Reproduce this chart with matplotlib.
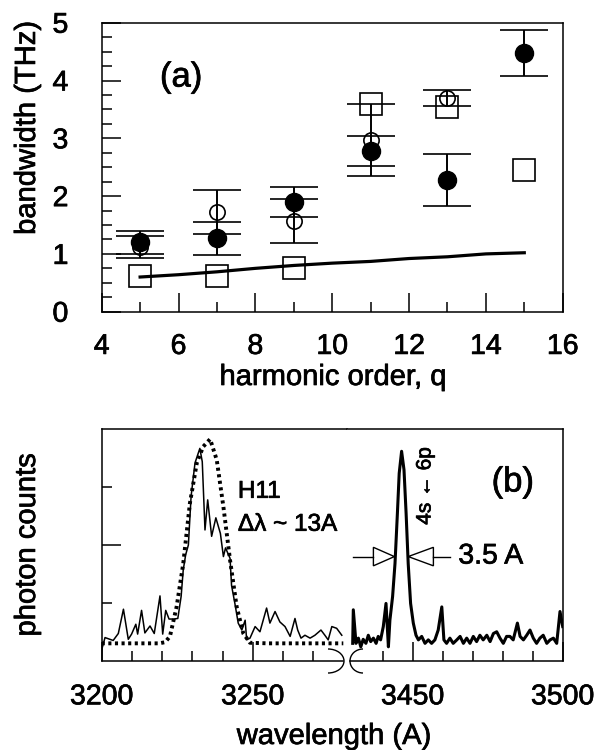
import matplotlib
matplotlib.use('Agg')
import matplotlib.pyplot as plt
from matplotlib.patches import Polygon, Arc
from matplotlib.ticker import MultipleLocator, FixedLocator
import matplotlib.patheffects as pe
import numpy as np

plt.rcParams['font.family'] = ['Liberation Sans', 'DejaVu Sans']
HEAVY = [pe.withStroke(linewidth=0.5, foreground='black')]

# ---------------- Panel (a) data ----------------
q_vals = [5, 7, 9, 11, 13, 15]
filled_bw = [1.20, 1.27, 1.89, 2.78, 2.28, 4.47]
filled_err = [0.20, 0.29, 0.26, 0.26, 0.45, 0.40]
open_q = [5, 7, 9, 11, 13]
open_bw = [1.12, 1.72, 1.57, 2.97, 3.70]
open_err = [0.19, 0.38, 0.38, 0.62, 0.14]
square_bw = [0.61, 0.61, 0.75, 3.60, 3.54, 2.46]
curve_q = [5, 6, 7, 8, 9, 10, 11, 12, 13, 14, 15]
curve_bw = [0.60, 0.64, 0.69, 0.75, 0.80, 0.84, 0.87, 0.92, 0.95, 1.00, 1.02]
a_xticks = [4, 6, 8, 10, 12, 14, 16]
a_yticks = [0, 1, 2, 3, 4, 5]

# ---------------- Panel (b) data ----------------
wl_left = [3200.0, 3201.1, 3202.7, 3203.8, 3205.5, 3207.2, 3208.8, 3209.9, 3211.3, 3211.9,
           3213.2, 3214.3, 3216.0, 3217.4, 3219.3, 3220.2, 3221.2, 3222.3, 3223.7, 3225.2,
           3226.3, 3227.0, 3227.8, 3228.7, 3229.6, 3230.9, 3232.5, 3233.3, 3234.2, 3235.1,
           3236.4, 3237.8, 3239.3, 3240.3, 3241.0, 3242.5, 3243.0, 3244.1, 3245.2, 3246.4,
           3247.5, 3248.0, 3249.1, 3250.8, 3252.4, 3254.6, 3255.7, 3257.4, 3259.0, 3260.7,
           3262.4, 3264.0, 3264.9, 3266.0, 3267.3, 3269.0, 3270.6, 3272.6, 3273.9, 3275.0,
           3276.2, 3277.8, 3279.5]
counts_left = [0.19, 0.40, 0.37, 0.35, 0.47, 0.89, 0.37, 0.46, 0.63, 0.46,
               0.87, 0.48, 0.60, 0.47, 1.12, 0.46, 0.87, 0.72, 0.72, 0.73,
               1.11, 1.57, 1.83, 2.00, 2.84, 3.42, 3.67, 3.44, 2.26, 2.78,
               2.15, 2.47, 2.20, 1.80, 1.95, 1.77, 1.30, 0.99, 0.65, 0.53,
               0.70, 0.36, 0.39, 0.59, 0.50, 0.91, 0.65, 0.85, 0.67, 0.59,
               0.42, 0.73, 0.53, 0.39, 0.44, 0.39, 0.44, 0.53, 0.44, 0.36,
               0.59, 0.56, 0.44]
wl_fit = [3200.0, 3210.0, 3219.0, 3221.0, 3222.6, 3224.8, 3227.0, 3229.2, 3231.5, 3233.6,
          3235.9, 3238.1, 3240.3, 3242.5, 3244.7, 3246.9, 3249.1, 3255.0, 3265.0, 3280.0]
counts_fit = [0.30, 0.30, 0.30, 0.32, 0.42, 0.93, 1.68, 2.72, 3.42, 3.70,
              3.83, 3.47, 2.66, 1.74, 0.93, 0.47, 0.31, 0.30, 0.30, 0.30]
wl_right = [3430.0, 3430.2, 3431.1, 3431.9, 3432.7, 3433.5, 3434.4, 3435.2, 3436.0, 3436.9,
            3437.8, 3438.5, 3439.3, 3440.2, 3441.1, 3441.9, 3442.4, 3443.3, 3444.1, 3444.9,
            3445.5, 3446.3, 3447.1, 3447.8, 3448.5, 3449.3, 3450.2, 3451.1, 3451.9, 3453.0,
            3454.1, 3455.2, 3456.3, 3457.4, 3458.5, 3459.7, 3460.4, 3461.3, 3462.4, 3463.5,
            3464.7, 3465.8, 3466.9, 3468.0, 3469.1, 3470.2, 3471.3, 3472.4, 3473.5, 3474.7,
            3475.8, 3476.9, 3478.0, 3479.1, 3480.2, 3481.3, 3482.4, 3483.5, 3484.9, 3485.8,
            3486.9, 3488.0, 3489.1, 3490.2, 3491.3, 3492.4, 3493.5, 3494.7, 3495.8, 3496.9,
            3498.0, 3499.1, 3500.0]
counts_right = [0.30, 0.88, 0.30, 0.39, 0.24, 0.37, 0.30, 0.44, 0.33, 0.39,
                0.30, 0.42, 0.36, 0.59, 0.99, 0.24, 0.70, 1.11, 1.68, 2.55,
                3.24, 3.62, 3.30, 2.55, 1.68, 0.99, 0.65, 0.44, 0.36, 0.42,
                0.30, 0.36, 0.30, 0.36, 0.53, 0.93, 0.36, 0.30, 0.39, 0.30,
                0.36, 0.42, 0.30, 0.39, 0.30, 0.42, 0.33, 0.44, 0.36, 0.44,
                0.33, 0.47, 0.50, 0.39, 0.30, 0.42, 0.42, 0.36, 0.65, 0.42,
                0.36, 0.44, 0.53, 0.39, 0.30, 0.39, 0.44, 0.30, 0.36, 0.39,
                0.30, 0.85, 0.59]
bl_major = [3200, 3250]
bl_minor = [3210, 3220, 3230, 3240, 3260, 3270]
br_major = [3450, 3500]
br_minor = [3440, 3460, 3470, 3480, 3490]

W, H = 606, 750
fig = plt.figure(figsize=(W / 100, H / 100), dpi=100)
fx = lambda x: x / W
fy = lambda y: 1 - y / H

FS = 20.5
LFS = 21
LW = 1.1

# ---------------- Panel (a) ----------------
ax = fig.add_axes([fx(101.7), fy(311.7), fx(562.7) - fx(101.7), fy(22.7) - fy(311.7)])
ax.plot(curve_q, curve_bw, color='black', lw=2.3, zorder=2)
ax.plot(q_vals, square_bw, linestyle='none', marker='s', ms=15.5, mfc='none',
        mec='black', mew=1.2, zorder=3)
ax.errorbar(open_q, open_bw, yerr=open_err, fmt='o', ms=11, mfc='none', mec='black',
            mew=1.2, ecolor='black', elinewidth=1.4, capsize=17.5, capthick=1.2,
            color='black', zorder=4)
ax.errorbar(q_vals, filled_bw, yerr=filled_err, fmt='o', ms=13, mfc='black', mec='black',
            ecolor='black', elinewidth=1.4, capsize=17.5, capthick=1.2,
            color='black', zorder=5)
ax.set_xlim(4, 16)
ax.set_ylim(0, 5)
ax.xaxis.set_major_locator(FixedLocator(a_xticks))
ax.xaxis.set_minor_locator(MultipleLocator(1))
ax.yaxis.set_major_locator(FixedLocator(a_yticks))
ax.yaxis.set_minor_locator(MultipleLocator(0.25))
ax.tick_params(which='both', direction='in', top=False, right=False, width=LW, labelsize=FS)
ax.tick_params(which='major', length=13.5)
ax.tick_params(which='minor', length=7)
ax.tick_params(axis='x', which='major', pad=16)
ax.tick_params(axis='y', which='major', pad=24)
for s in ax.spines.values():
    s.set_linewidth(LW)
for t in ax.get_xticklabels() + ax.get_yticklabels():
    t.set_path_effects(HEAVY)
ax.text(6.07, 4.06, '(a)', fontsize=25, ha='center', va='center', path_effects=HEAVY)
fig.text(fx(333), fy(385), 'harmonic order, q', fontsize=LFS, ha='center', va='baseline',
         path_effects=HEAVY)
fig.text(fx(27), fy(128), 'bandwidth (THz)', fontsize=LFS, ha='center', va='center',
         rotation=90, path_effects=HEAVY)

# ---------------- Panel (b) ----------------
split = 347.0
bl = fig.add_axes([fx(101.7), fy(660.7), fx(split) - fx(101.7), fy(429.3) - fy(660.7)])
br = fig.add_axes([fx(split), fy(660.7), fx(562.7) - fx(split), fy(429.3) - fy(660.7)])

bl.plot(wl_left, counts_left, color='black', lw=1.1, zorder=3)
bl.plot(wl_fit, counts_fit, color='black', lw=2.8, linestyle=(0, (0.8, 0.9)), zorder=2)
br.plot(wl_right, counts_right, color='black', lw=2.2, zorder=3)

bl.set_xlim(3200, 3200 + (split - 101.7) / 3.02)
br.set_xlim(3450 - (412.7 - split) / 3.0, 3500)
for a in (bl, br):
    a.set_ylim(0, 4)
    for s in a.spines.values():
        s.set_linewidth(LW)
bl.spines['right'].set_visible(False)
br.spines['left'].set_visible(False)
bl.spines['bottom'].set_bounds(3200, 3200 + (343 - 101.7) / 3.02)
br.spines['bottom'].set_bounds(3450 - (412.7 - 350) / 3.0, 3500)

bl.xaxis.set_major_locator(FixedLocator(bl_major))
bl.xaxis.set_minor_locator(FixedLocator(bl_minor))
br.xaxis.set_major_locator(FixedLocator(br_major))
br.xaxis.set_minor_locator(FixedLocator(br_minor))
bl.yaxis.set_major_locator(FixedLocator([2]))
bl.yaxis.set_minor_locator(FixedLocator([1, 3]))
br.yaxis.set_major_locator(FixedLocator([]))
br.yaxis.set_minor_locator(FixedLocator([]))
for a in (bl, br):
    a.tick_params(which='both', direction='in', top=False, right=False, width=LW,
                  labelsize=FS)
    a.tick_params(which='major', length=13.5)
    a.tick_params(which='minor', length=7)
    a.tick_params(axis='x', which='major', pad=17)
    for t in a.get_xticklabels():
        t.set_path_effects(HEAVY)
bl.tick_params(axis='y', which='both', labelleft=False)
br.tick_params(axis='y', which='both', left=False, labelleft=False)

# break marks
fig.add_artist(Arc((fx(328), fy(661)), width=32 / W, height=24 / H, theta1=-90, theta2=90,
                   transform=fig.transFigure, color='black', lw=1.0, clip_on=False))
fig.add_artist(Arc((fx(363), fy(661)), width=26 / W, height=24 / H, theta1=90, theta2=270,
                   transform=fig.transFigure, color='black', lw=1.0, clip_on=False))

# annotations
bl.text(3245.1, 2.92, 'H11', fontsize=17.5, ha='left', va='center', path_effects=HEAVY)
bl.text(3245.1, 2.35, 'Δλ ~ 13A', fontsize=17.5, ha='left', va='center', path_effects=HEAVY)

arrow_y = 1.80
tri_h = 0.16
br.plot([3430.0, 3436.9], [arrow_y, arrow_y], color='black', lw=1.0)
br.plot([3456.9, 3462.4], [arrow_y, arrow_y], color='black', lw=1.0)
br.add_patch(Polygon([[3436.9, arrow_y - tri_h], [3436.9, arrow_y + tri_h], [3443.9, arrow_y]],
                     closed=True, fill=False, ec='black', lw=1.0))
br.add_patch(Polygon([[3456.9, arrow_y - tri_h], [3456.9, arrow_y + tri_h], [3448.5, arrow_y]],
                     closed=True, fill=False, ec='black', lw=1.0))
br.text(3465.2, arrow_y, '3.5 A', fontsize=FS, ha='left', va='center', path_effects=HEAVY)
br.text(3454.1, 3.02, '4s ← 6p', fontsize=15, ha='center', va='center', rotation=90,
        path_effects=HEAVY)
br.text(3483.4, 3.09, '(b)', fontsize=25, ha='center', va='center', path_effects=HEAVY)

fig.text(fx(334), fy(744), 'wavelength (A)', fontsize=LFS, ha='center', va='baseline',
         path_effects=HEAVY)
fig.text(fx(27), fy(545), 'photon counts', fontsize=LFS, ha='center', va='center',
         rotation=90, path_effects=HEAVY)

fig.savefig('out.png', dpi=100)
